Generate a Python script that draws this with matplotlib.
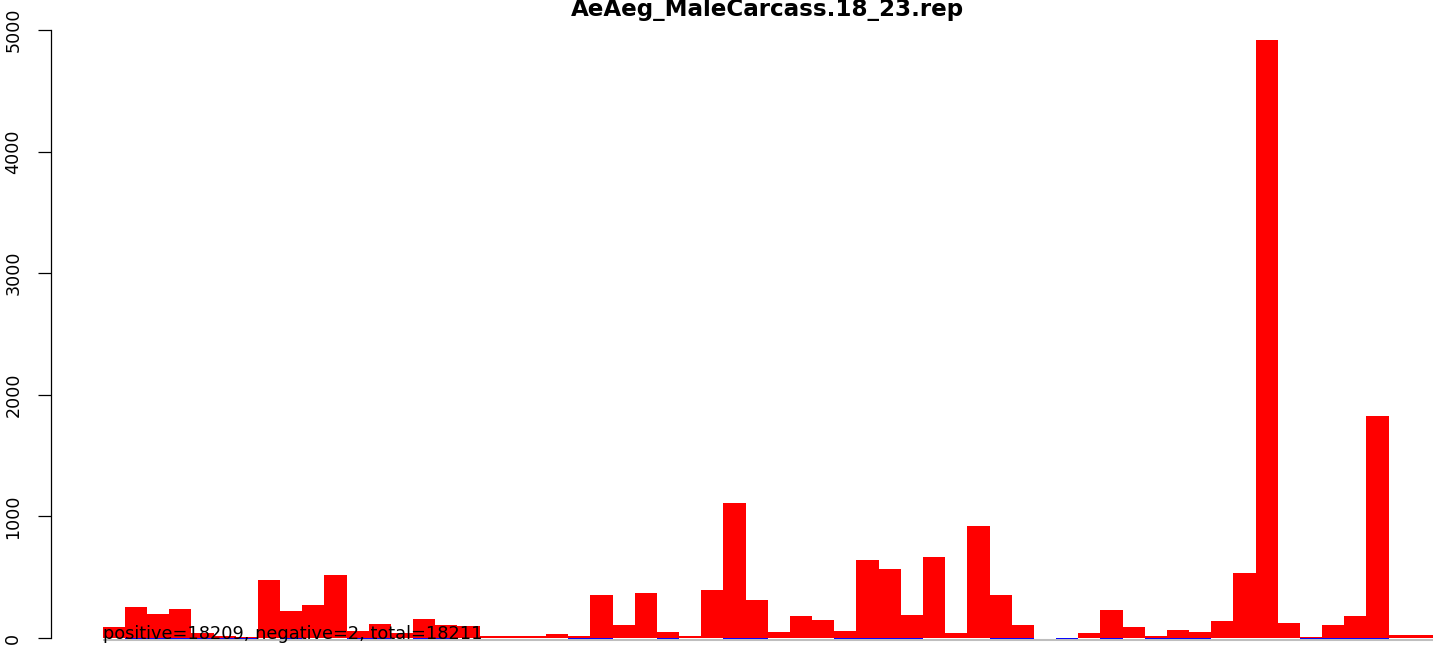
import numpy as np
import matplotlib
matplotlib.use("Agg")
import matplotlib.pyplot as plt

# =========================
# 0) DADOS (lidos da figura)
# =========================

titulo = "AeAeg_MaleCarcass.18_23.rep"
rotulo = "positive=18209, negative=2, total=18211"

# contagens positivas (barras vermelhas), 60 posições
positivos = [
    90, 255, 200, 239, 38, 20, 5, 477, 222, 274,
    518, 60, 115, 40, 156, 110, 95, 16, 16, 16,
    36, 18, 354, 107, 370, 49, 16, 395, 1111, 313,
    49, 181, 148, 58, 642, 568, 189, 667, 41, 922,
    354, 107, 4, 0, 41, 230, 90, 16, 66, 49,
    140, 535, 4914, 123, 8, 107, 181, 1827, 25, 25,
]

# contagens negativas (barras azuis, quase invisíveis)
negativos = [
    0, -9, -9, -9, -9, -9, -9, 0, -9, 0,
    0, -9, -9, 0, -9, -9, 0, 0, 0, 0,
    0, -9, -9, 0, 0, -9, 0, 0, -9, -9,
    0, 0, 0, -9, -9, -9, -9, 0, 0, 0,
    -9, -9, 0, -9, 0, -9, 0, -9, -9, -9,
    0, 0, 0, 0, -9, -9, -9, -9, 0, 0,
]

yticks = [0, 1000, 2000, 3000, 4000, 5000]

# =========================
# 1) FIGURA
# =========================

W, H = 1447, 645
fig = plt.figure(figsize=(W / 100, H / 100), dpi=100)

# eixo posicionado em pixels (o gráfico original está cortado à direita e embaixo)
esq, topo, base = 50.7, 16.6, 645.0
ax = fig.add_axes([esq / W, 0, 1 - esq / W, 1 - topo / H])

px_barra = 22.17
px_unid = 0.1216
ax.set_xlim(-(102.7 - esq) / px_barra, (W - 102.7) / px_barra)
ax.set_ylim(-(base - 638.0) / px_unid, (638.0 - topo) / px_unid)

x = np.arange(len(positivos))
ax.bar(x, positivos, width=1.0, align="edge", color="#FF0000", linewidth=0)
ax.bar(x, negativos, width=1.0, align="edge", color="#0000FF", linewidth=0)
ax.hlines(-14, 0, len(positivos), color="#BEBEBE", linewidth=1.5)

# eixo y no estilo R
for lado in ["top", "right", "bottom"]:
    ax.spines[lado].set_visible(False)
ax.spines["left"].set_bounds(0, 5000)
ax.spines["left"].set_linewidth(0.9)
ax.set_yticks(yticks)
ax.set_yticklabels([str(v) for v in yticks], rotation=90, va="center", fontsize=12.6)
ax.tick_params(axis="y", length=9.4, width=0.9, pad=11)
ax.set_xticks([])

ax.text(0, -8, rotulo, ha="left", va="baseline", fontsize=12.8, color="black")

fig.text((102.7 + 1432.9) / 2 / W, 1 - 16 / H, titulo, ha="center", va="baseline",
         fontsize=16.6, fontweight="bold")

fig.savefig("out.png", dpi=100)
